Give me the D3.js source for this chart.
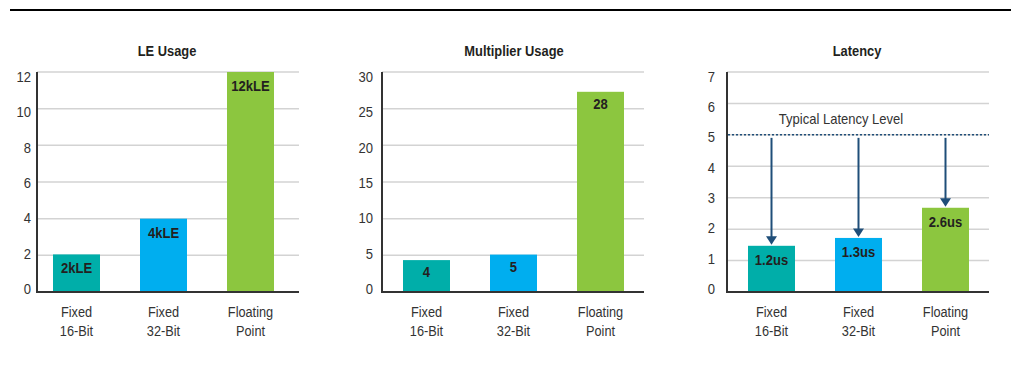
<!DOCTYPE html>
<html>
<head>
<meta charset="utf-8">
<script src="https://cdn.jsdelivr.net/npm/d3@7"></script>
<style>
  html, body { margin: 0; padding: 0; background: #fff; }
  svg { display: block; }
  text { font-family: "Liberation Sans", Arial, sans-serif; fill: #333; }
</style>
</head>
<body>
<svg id="chart" width="1011" height="366"></svg>
<script>
// ---- data ----
const categories = [["Fixed", "16-Bit"], ["Fixed", "32-Bit"], ["Floating", "Point"]];
const barColors = ["#00aea9", "#00aeef", "#8cc63f"];

const leTitle = "LE Usage";
const leValues = [2.05, 4, 12];
const leLabels = ["2kLE", "4kLE", "12kLE"];
const leTicks = [0, 2, 4, 6, 8, 10, 12];

const multTitle = "Multiplier Usage";
const multValues = [4.35, 5.1, 27.3];
const multLabels = ["4", "5", "28"];
const multTicks = [0, 5, 10, 15, 20, 25, 30];

const latTitle = "Latency";
const latValues = [1.47, 1.72, 2.68];
const latLabels = ["1.2us", "1.3us", "2.6us"];
const latTicks = [0, 1, 2, 3, 4, 5, 6, 7];
const typicalLatency = 5;
const typicalLatencyText = "Typical Latency Level";

// ---- drawing ----
const svg = d3.select("#chart");

// narrow text helper (condensed look)
function label(g, x, y, txt, o) {
  return g.append("text")
    .attr("transform", `translate(${x},${y}) scale(${o.k},1)`)
    .attr("text-anchor", o.anchor || "middle")
    .attr("dominant-baseline", o.baseline || "auto")
    .style("font-size", o.size + "px")
    .style("font-weight", o.bold ? "bold" : "normal")
    .style("fill", o.fill || "#333")
    .text(txt);
}

// top rule
svg.append("rect").attr("x", 10).attr("y", 9).attr("width", 1001).attr("height", 2).attr("fill", "#000");

const plotTop = 72, plotBottom = 292, gridW = 262;

function drawPanel(cfg) {
  const g = svg.append("g");
  const domain = [0, cfg.ticks[cfg.ticks.length - 1]];
  const y = d3.scaleLinear().domain(domain).range([plotBottom, plotTop]);
  const yLab = d3.scaleLinear().domain(domain).range([288.5, 76.5]);
  const idx = categories.map((c, i) => i);
  const x = d3.scaleBand().domain(idx)
    .range([cfg.axisX + cfg.offset, cfg.axisX + cfg.offset + 221])
    .paddingInner(40 / 87).paddingOuter(0);

  // grid
  g.selectAll("line.grid").data(cfg.ticks.filter(t => t > 0)).join("line")
    .attr("x1", cfg.axisX).attr("x2", cfg.axisX + gridW)
    .attr("y1", d => y(d)).attr("y2", d => y(d))
    .attr("stroke", "#d3d3d3").attr("stroke-width", 1.5);

  // tick labels
  cfg.ticks.forEach(t => {
    label(g, cfg.axisX - cfg.tickPad, yLab(t), t, { k: 0.87, size: 15, anchor: "end", baseline: "central" });
  });

  // bars
  g.selectAll("rect.bar").data(cfg.values).join("rect")
    .attr("x", (d, i) => x(i)).attr("width", x.bandwidth())
    .attr("y", d => y(d)).attr("height", d => y(0) - y(d))
    .attr("fill", (d, i) => barColors[i]);

  // value labels
  cfg.values.forEach((v, i) => {
    label(g, x(i) + x.bandwidth() / 2, y(v) + cfg.labelDy, cfg.labels[i],
      { k: 0.87, size: 15, bold: true, fill: "#231f20" });
  });

  // axes
  g.append("rect").attr("x", cfg.axisX - 1).attr("y", plotTop).attr("width", 2)
    .attr("height", plotBottom - plotTop + 1).attr("fill", "#333");
  g.append("rect").attr("x", cfg.axisX - 1).attr("y", plotBottom - 1).attr("width", gridW + 1)
    .attr("height", 2).attr("fill", "#333");

  // category labels
  categories.forEach((c, i) => {
    const cx = x(i) + x.bandwidth() / 2;
    label(g, cx, 317, c[0], { k: 0.85, size: 15 });
    label(g, cx, 336, c[1], { k: 0.85, size: 15 });
  });

  // title
  label(g, cfg.titleX, 56, cfg.title, { k: 0.92, size: 14, bold: true, fill: "#231f20" });

  return { g, x, y };
}

drawPanel({ title: leTitle, values: leValues, labels: leLabels, ticks: leTicks,
  axisX: 37, offset: 16, tickPad: 6, labelDy: 19, titleX: 167 });
drawPanel({ title: multTitle, values: multValues, labels: multLabels, ticks: multTicks,
  axisX: 382, offset: 21, tickPad: 9, labelDy: 17, titleX: 514 });
const lat = drawPanel({ title: latTitle, values: latValues, labels: latLabels, ticks: latTicks,
  axisX: 727, offset: 21, tickPad: 12, labelDy: 19, titleX: 857 });

// typical latency line
const navy = "#1f4e79";
lat.g.append("line")
  .attr("x1", 728).attr("x2", 727 + gridW)
  .attr("y1", lat.y(typicalLatency)).attr("y2", lat.y(typicalLatency))
  .attr("stroke", navy).attr("stroke-width", 1.5).attr("stroke-dasharray", "2,2");
label(lat.g, 841, lat.y(typicalLatency) - 11, typicalLatencyText, { k: 0.93, size: 14 });

// arrows
latValues.forEach((v, i) => {
  const cx = lat.x(i) + lat.x.bandwidth() / 2;
  const tip = lat.y(v) - 1;
  const start = lat.y(typicalLatency) + 3;
  lat.g.append("line").attr("x1", cx).attr("x2", cx).attr("y1", start).attr("y2", tip - 6)
    .attr("stroke", navy).attr("stroke-width", 2);
  lat.g.append("path")
    .attr("d", `M${cx - 5.5},${tip - 8.5} L${cx + 5.5},${tip - 8.5} L${cx},${tip} Z`)
    .attr("fill", navy);
});
</script>
</body>
</html>
